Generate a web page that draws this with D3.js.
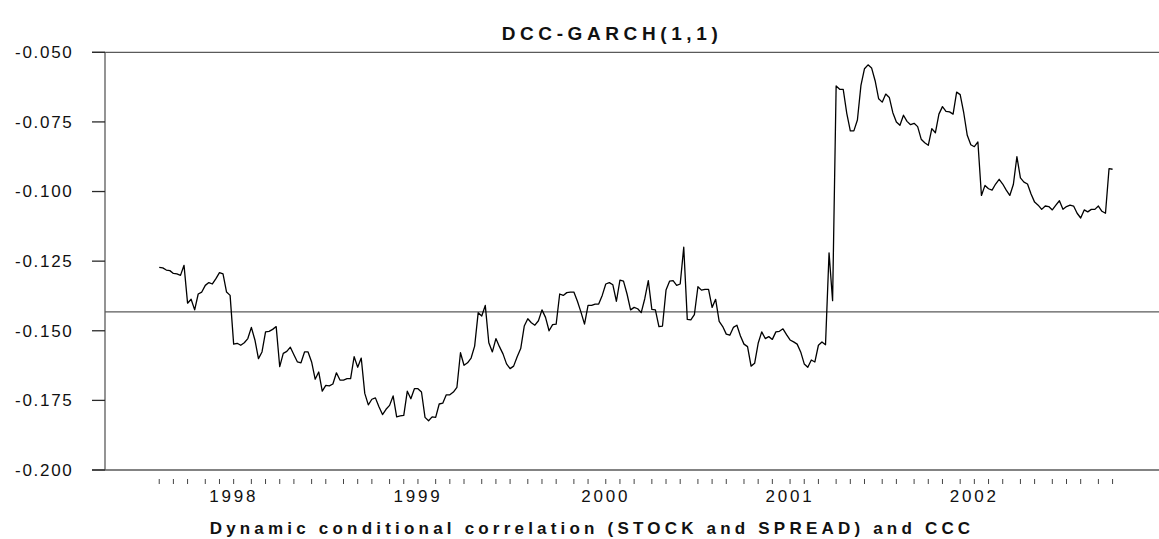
<!DOCTYPE html>
<html lang="en">
<head>
<meta charset="UTF-8">
<title>DCC-GARCH(1,1)</title>
<script src="https://d3js.org/d3.v7.min.js"></script>
<style>
  body { margin: 0; background: #fff; }
  svg { display: block; font-family: "Liberation Sans", Arial, sans-serif; }
  .frame { stroke: #5a5a5a; stroke-width: 1.3; fill: none; }
  .tick-y { stroke: #2a2a2a; stroke-width: 1.3; }
  .tick-x { stroke: #444; stroke-width: 1; }
  .ylab { font-size: 17px; fill: #111; letter-spacing: 1.7px; }
  .xlab { font-size: 17px; fill: #111; letter-spacing: 2.8px; }
  .title { font-size: 19px; font-weight: bold; fill: #111; letter-spacing: 4.6px; }
  .caption { font-size: 17px; font-weight: bold; fill: #111; letter-spacing: 4.2px; }
</style>
</head>
<body>
<svg width="1159" height="539"></svg>
<script>
// weekly observations, first one in early August 1997
const startDate = new Date(1997, 7, 8);

// dynamic conditional correlation
const dcc = [
  -0.1272, -0.1274, -0.1282, -0.1284, -0.1294, -0.1296, -0.1301, -0.1265, -0.1401, -0.1387,
  -0.1425, -0.1368, -0.1361, -0.1337, -0.1327, -0.1332, -0.1313, -0.1291, -0.1296, -0.1361,
  -0.1373, -0.1548, -0.1545, -0.1552, -0.1543, -0.1528, -0.1488, -0.1533, -0.1600, -0.1576,
  -0.1504, -0.1502, -0.1495, -0.1485, -0.1629, -0.1581, -0.1574, -0.1559, -0.1586, -0.1612,
  -0.1615, -0.1576, -0.1576, -0.1612, -0.1674, -0.1648, -0.1717, -0.1696, -0.1698, -0.1691,
  -0.1651, -0.1677, -0.1677, -0.1672, -0.1672, -0.1593, -0.1631, -0.1598, -0.1725, -0.1766,
  -0.1746, -0.1741, -0.1773, -0.1801, -0.1782, -0.1768, -0.1734, -0.1809, -0.1806, -0.1804,
  -0.1717, -0.1744, -0.1708, -0.1708, -0.1720, -0.1811, -0.1823, -0.1809, -0.1811, -0.1763,
  -0.1760, -0.1730, -0.1730, -0.1720, -0.1703, -0.1579, -0.1624, -0.1615, -0.1598, -0.1555,
  -0.1435, -0.1447, -0.1409, -0.1543, -0.1576, -0.1528, -0.1557, -0.1583, -0.1619, -0.1636,
  -0.1627, -0.1593, -0.1564, -0.1483, -0.1457, -0.1471, -0.1480, -0.1464, -0.1425, -0.1452,
  -0.1500, -0.1478, -0.1476, -0.1368, -0.1373, -0.1363, -0.1361, -0.1361, -0.1394, -0.1433,
  -0.1476, -0.1409, -0.1409, -0.1404, -0.1404, -0.1373, -0.1332, -0.1327, -0.1335, -0.1394,
  -0.1318, -0.1322, -0.1368, -0.1425, -0.1416, -0.1421, -0.1435, -0.1385, -0.1320, -0.1423,
  -0.1425, -0.1485, -0.1483, -0.1354, -0.1322, -0.1320, -0.1337, -0.1332, -0.1200, -0.1459,
  -0.1461, -0.1442, -0.1342, -0.1354, -0.1351, -0.1351, -0.1416, -0.1387, -0.1466, -0.1485,
  -0.1512, -0.1516, -0.1488, -0.1480, -0.1519, -0.1548, -0.1557, -0.1627, -0.1617, -0.1545,
  -0.1504, -0.1528, -0.1521, -0.1531, -0.1504, -0.1502, -0.1493, -0.1514, -0.1533, -0.1540,
  -0.1548, -0.1576, -0.1619, -0.1631, -0.1605, -0.1612, -0.1552, -0.1540, -0.1550, -0.1220,
  -0.1392, -0.0621, -0.0633, -0.0633, -0.0719, -0.0782, -0.0782, -0.0743, -0.0619, -0.0559,
  -0.0545, -0.0556, -0.0602, -0.0667, -0.0679, -0.0650, -0.0662, -0.0717, -0.0750, -0.0762,
  -0.0726, -0.0748, -0.0760, -0.0755, -0.0767, -0.0812, -0.0825, -0.0834, -0.0774, -0.0789,
  -0.0722, -0.0695, -0.0712, -0.0714, -0.0722, -0.0643, -0.0652, -0.0717, -0.0798, -0.0832,
  -0.0839, -0.0822, -0.1014, -0.0978, -0.0990, -0.0995, -0.0973, -0.0956, -0.0973, -0.0995,
  -0.1014, -0.0975, -0.0875, -0.0951, -0.0966, -0.0973, -0.1009, -0.1038, -0.1049, -0.1064,
  -0.1052, -0.1054, -0.1066, -0.1049, -0.1033, -0.1064, -0.1054, -0.1049, -0.1052, -0.1078,
  -0.1095, -0.1066, -0.1073, -0.1064, -0.1064, -0.1052, -0.1071, -0.1078, -0.0918, -0.0920
];

// constant conditional correlation
const ccc = -0.1432;

const yTicks = [-0.200, -0.175, -0.150, -0.125, -0.100, -0.075, -0.050];
const yearLabels = ["1998", "1999", "2000", "2001", "2002"];

const titleText = "DCC-GARCH(1,1)";
const captionText = "Dynamic conditional correlation (STOCK and SPREAD) and CCC";

const svg = d3.select("svg");
const width = 1159, height = 539;
const margin = { top: 52.3, right: 0, bottom: 69, left: 105 };

const data = dcc.map((v, i) => ({ date: d3.timeWeek.offset(startDate, i), value: v }));
const first = data[0].date, last = data[data.length - 1].date;
const week = 7 * 24 * 3600 * 1000;

const x = d3.scaleTime()
  .domain([new Date(+first - 15.3 * week), new Date(+last + 13.1 * week)])
  .range([margin.left, width - margin.right]);

const y = d3.scaleLinear()
  .domain([-0.2, -0.05])
  .range([height - margin.bottom, margin.top]);

// frame: left axis, top and bottom lines
svg.append("line").attr("class", "frame")
  .attr("x1", margin.left).attr("x2", margin.left)
  .attr("y1", y(-0.05)).attr("y2", y(-0.2));
[-0.05, -0.2].forEach(v => {
  svg.append("line").attr("class", "frame")
    .attr("x1", margin.left - 13).attr("x2", width)
    .attr("y1", y(v)).attr("y2", y(v));
});

// y ticks and labels
svg.append("g").selectAll("line")
  .data(yTicks)
  .join("line")
    .attr("class", "tick-y")
    .attr("x1", margin.left - 13).attr("x2", margin.left)
    .attr("y1", d => y(d)).attr("y2", d => y(d));

svg.append("g").selectAll("text")
  .data(yTicks)
  .join("text")
    .attr("class", "ylab")
    .attr("x", margin.left - 31.5)
    .attr("y", d => y(d))
    .attr("dy", "0.35em")
    .attr("text-anchor", "end")
    .text(d => d3.format(".3f")(d).replace("−", "-"));

// monthly ticks at the first observation of each month
const monthStarts = data.filter((d, i) => i === 0 || d.date.getMonth() !== data[i - 1].date.getMonth());
const axisY = y(-0.2);

svg.append("g").selectAll("line")
  .data(monthStarts)
  .join("line")
    .attr("class", "tick-x")
    .attr("x1", d => x(d.date)).attr("x2", d => x(d.date))
    .attr("y1", axisY + 9).attr("y2", axisY + 14);

const januaries = monthStarts.filter(d => d.date.getMonth() === 0);
svg.append("g").selectAll("text")
  .data(januaries)
  .join("text")
    .attr("class", "xlab")
    .attr("x", d => x(d.date))
    .attr("y", axisY + 32)
    .attr("text-anchor", "middle")
    .text((d, i) => yearLabels[i]);

// CCC level
svg.append("line").attr("class", "frame")
  .attr("x1", margin.left).attr("x2", width)
  .attr("y1", y(ccc)).attr("y2", y(ccc));

// DCC series
svg.append("path")
  .datum(data)
  .attr("fill", "none")
  .attr("stroke", "#000")
  .attr("stroke-width", 1.3)
  .attr("stroke-linejoin", "round")
  .attr("d", d3.line().x(d => x(d.date)).y(d => y(d.value)));

svg.append("text")
  .attr("class", "title")
  .attr("x", 612)
  .attr("y", 40)
  .attr("text-anchor", "middle")
  .text(titleText);

svg.append("text")
  .attr("class", "caption")
  .attr("x", 592)
  .attr("y", 534)
  .attr("text-anchor", "middle")
  .text(captionText);
</script>
</body>
</html>
